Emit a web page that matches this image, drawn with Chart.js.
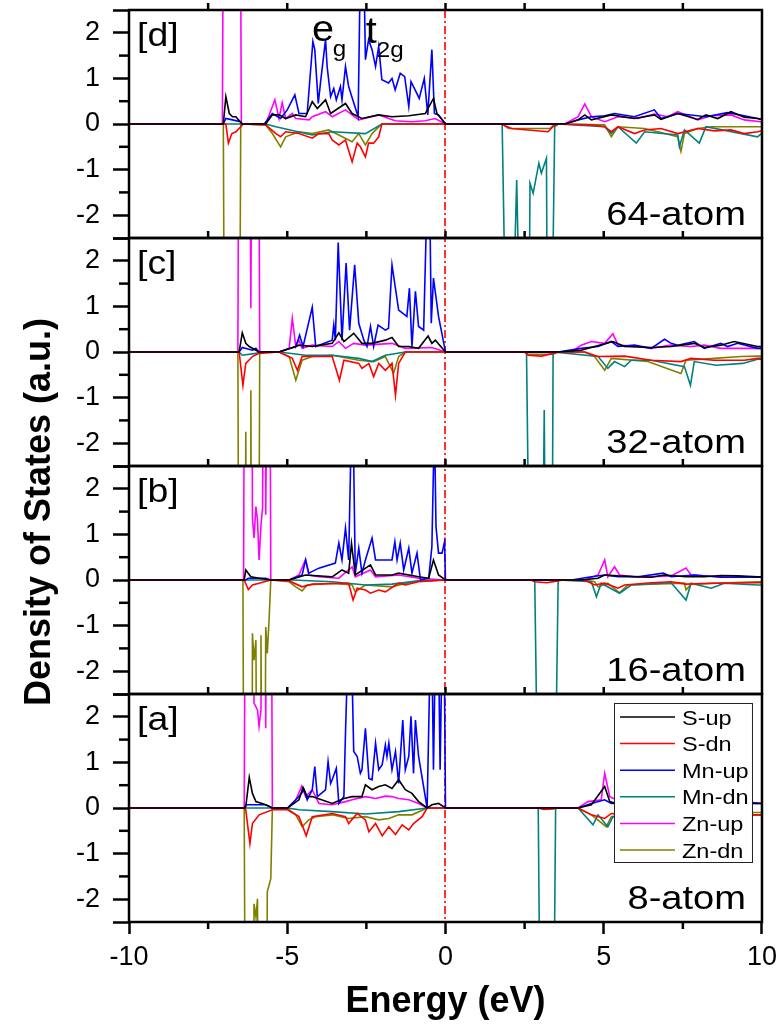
<!DOCTYPE html>
<html><head><meta charset="utf-8">
<script src="https://cdn.jsdelivr.net/npm/chart.js@4.4.1/dist/chart.umd.min.js"></script>
<style>html,body{margin:0;padding:0;background:#fff;}canvas{display:block;}</style>
</head><body>
<canvas id="c" width="784" height="1028"></canvas>
<script>
// ---------- labels ----------
const seriesNames  = ['S-up','S-dn','Mn-up','Mn-dn','Zn-up','Zn-dn'];
const seriesColors = ['#000000','#ff0000','#0000ff','#008080','#ff00ff','#808000'];
const panelKeys  = ['a','b','c','d'];
const panelTags  = ['[a]','[b]','[c]','[d]'];
const panelSizes = ['8-atom','16-atom','32-atom','64-atom'];
const xTicks = [-10,-5,0,5,10];
const yTicks = [-2,-1,0,1,2];
const xTitle = 'Energy (eV)';
const yTitle = 'Density of States (a.u.)';

// ---------- panel [a] 8-atom : [energy, DOS] ----------
const sUp_a = [[-10,0],[-6.34,0],[-6.31,0.03],[-6.20,0.67],[-6.10,0.32],[-5.99,0.14],[-5.68,0.07],[-5.47,0],[-4.99,0],[-4.63,0.18],[-4.50,0.45],[-4.37,0.25],[-4.21,0.25],[-3.58,0.10],[-3.21,0.21],[-2.95,0.25],[-2.64,0.25],[-2.53,0.51],[-2.32,0.40],[-2.11,0.47],[-1.90,0.51],[-1.69,0.43],[-1.48,0.62],[-1.27,0.40],[-1.06,0.32],[-0.85,0.14],[-0.58,0],[-0.43,0.07],[-0.22,0.10],[0,0],[4.19,0],[4.61,0.07],[5.03,0.47],[5.19,0.14],[5.40,0.10],[7,0.08],[9,0.10],[9.7,0.10],[10,0.10]];
const sDn_a = [[-10,0],[-6.34,0],[-6.31,-0.04],[-6.18,-0.78],[-6.10,-0.34],[-5.89,-0.15],[-5.47,-0.04],[-4.99,-0.04],[-4.63,-0.19],[-4.40,-0.61],[-4.21,-0.19],[-3.58,-0.12],[-3.16,-0.19],[-3.06,-0.34],[-2.79,-0.12],[-2.53,-0.26],[-2.42,-0.52],[-2.21,-0.34],[-2.0,-0.61],[-1.79,-0.41],[-1.58,-0.58],[-1.37,-0.37],[-1.16,-0.48],[-1.01,-0.34],[-0.74,-0.19],[-0.58,0],[2.93,0],[3.10,-0.03],[3.40,-0.02],[3.50,0],[4.19,0],[4.61,-0.15],[5.03,-0.23],[5.24,-0.12],[6,-0.15],[8,-0.15],[9.7,-0.15],[10,-0.15]];
const mnUp_a = [[-10,0],[-6.36,0],[-6.31,0.07],[-5.68,0.07],[-5.47,0],[-4.99,0],[-4.63,0.25],[-4.47,0.40],[-4.37,0.18],[-4.21,0.40],[-4.13,0.91],[-4.05,0.25],[-3.79,0.40],[-3.71,1.02],[-3.63,0.54],[-3.58,0.62],[-3.45,0.87],[-3.37,0.10],[-3.21,0.25],[-3.16,1.64],[-3.08,3.5],[-2.97,3.5],[-2.90,1.24],[-2.79,1.13],[-2.69,0.76],[-2.64,0.84],[-2.53,1.75],[-2.42,0.65],[-2.32,0.62],[-2.21,1.42],[-2.11,0.84],[-2.0,0.95],[-1.90,1.38],[-1.85,1.13],[-1.79,1.42],[-1.69,0.84],[-1.58,1.24],[-1.48,0.54],[-1.35,1.93],[-1.27,0.84],[-1.16,1.13],[-1.09,2.01],[-1.01,0.76],[-0.95,1.93],[-0.85,1.13],[-0.58,0],[-0.48,3.5],[-0.43,3.5],[-0.38,0.84],[-0.32,3.5],[-0.22,3.5],[-0.17,0.84],[-0.11,3.5],[-0.04,3.5],[0,0],[4.19,0],[4.61,0.10],[5.03,0.18],[5.24,0.10],[6,0.10],[8,0.10],[9.7,0.12],[10,0.10]];
const mnDn_a = [[-10,0],[-4.99,0],[-4.63,-0.04],[-3.58,-0.08],[-2.53,-0.13],[-1.48,-0.08],[-0.58,0],[2.93,0],[3.03,-8],[3.38,-8],[3.48,0],[4.19,0],[4.66,-0.37],[4.82,-0.15],[5.13,-0.41],[5.29,-0.19],[6,-0.20],[8,-0.20],[9.7,-0.15],[10,-0.15]];
const znUp_a = [[-10,0],[-6.36,0],[-6.31,8],[-6.10,8],[-6.05,2.30],[-5.94,2.15],[-5.89,1.79],[-5.83,2.15],[-5.78,8],[-5.72,8],[-5.68,1.75],[-5.63,8],[-5.52,8],[-5.47,0],[-4.99,0],[-4.73,0.18],[-4.54,0.48],[-4.42,0.25],[-4.21,0.40],[-4.0,0.10],[-3.58,0.07],[-3.16,0.14],[-2.95,0.18],[-2.53,0.25],[-2.21,0.21],[-1.90,0.26],[-1.69,0.25],[-1.48,0.21],[-1.16,0.18],[-0.85,0.10],[-0.58,0],[4.19,0],[4.50,0.14],[4.92,0.18],[5.03,0.76],[5.19,0.25],[5.40,0.18],[6,0.12],[7,0.10],[8,0.12],[9,0.10],[9.7,0.10],[10,0.10]];
const znDn_a = [[-10,0],[-6.36,0],[-6.31,-8],[-6.10,-8],[-6.05,-2.10],[-5.99,-2.39],[-5.94,-1.99],[-5.89,-8],[-5.68,-8],[-5.63,-1.84],[-5.52,-1.55],[-5.47,0],[-4.99,-0.01],[-4.73,-0.15],[-4.53,-0.41],[-4.32,-0.26],[-4.10,-0.19],[-3.58,-0.15],[-3.06,-0.23],[-2.53,-0.19],[-2.11,-0.26],[-1.79,-0.23],[-1.48,-0.15],[-1.06,-0.15],[-0.58,0],[4.19,0],[4.61,-0.15],[5.08,-0.41],[5.24,-0.19],[6,-0.15],[8,-0.12],[9.7,-0.10],[10,-0.10]];

// ---------- panel [b] 16-atom ----------
const sUp_b = [[-10,0],[-6.36,0],[-6.31,0.22],[-6.15,0.07],[-5.89,0.04],[-5.52,0],[-4.94,0],[-4.42,0.11],[-3.58,0.07],[-3.27,0.22],[-3.06,0.15],[-2.97,0.80],[-2.85,0.11],[-2.37,0.33],[-2.21,0.11],[-1.69,0.11],[-1.48,0.15],[-0.85,0.07],[-0.53,0.04],[-0.38,0.44],[-0.22,0.11],[0,0],[4.29,0],[4.82,0.04],[5.03,0.11],[5.45,0.09],[6.50,0.06],[6.92,0.11],[7.60,0.07],[8.18,0.07],[8.70,0.10],[9.23,0.09],[9.86,0.07],[10,0.07]];
const sDn_b = [[-10,0],[-6.36,0],[-6.23,-0.21],[-6.10,-0.11],[-5.89,-0.07],[-5.52,0],[-4.94,-0.02],[-4.53,-0.15],[-4.21,-0.09],[-3.06,-0.07],[-2.92,-0.44],[-2.79,-0.18],[-2.53,-0.22],[-2.37,-0.29],[-2.11,-0.22],[-1.90,-0.26],[-1.48,-0.07],[-1.27,-0.11],[-0.85,-0.04],[0,0],[2.70,0],[2.82,-0.04],[3.20,-0.06],[3.56,-0.02],[3.70,0],[4.40,0],[4.71,-0.11],[5.03,-0.07],[5.45,-0.18],[5.66,-0.11],[6.50,-0.06],[7.13,-0.04],[7.60,-0.09],[8.49,-0.07],[9.86,-0.06],[10,-0.06]];
const mnUp_b = [[-10,0],[-6.31,0],[-6.23,0.04],[-5.68,0.04],[-5.52,0],[-4.94,0],[-4.53,0.11],[-4.42,0.44],[-4.32,0.15],[-4.0,0.26],[-3.48,0.37],[-3.37,0.81],[-3.27,0.44],[-3.16,1.14],[-3.06,0.44],[-2.97,3.5],[-2.92,3.5],[-2.85,0.15],[-2.74,0.70],[-2.64,0.15],[-2.53,0.44],[-2.32,0.92],[-2.21,0.44],[-1.69,0.44],[-1.60,0.84],[-1.53,0.44],[-1.43,0.81],[-1.32,0.22],[-1.16,0.70],[-1.06,0.15],[-0.90,0.59],[-0.79,0],[-0.53,0.04],[-0.43,0.73],[-0.35,3.5],[-0.30,1.17],[-0.22,0.59],[-0.11,0.59],[-0.03,0.84],[0,0],[3.98,0],[4.61,0.07],[5.03,0.11],[5.45,0.07],[6.08,0.07],[6.88,0.15],[7.13,0.07],[7.86,0.11],[8.70,0.06],[9.86,0.06],[10,0.06]];
const mnDn_b = [[-10,0],[-4.84,0],[-3.58,-0.04],[-2.53,-0.11],[-1.69,-0.09],[-0.85,-0.02],[0,0],[2.82,0],[2.98,-8],[3.40,-8],[3.56,0],[4.61,-0.04],[4.77,-0.37],[4.92,-0.07],[5.50,-0.29],[5.87,-0.11],[7.13,-0.06],[7.60,-0.44],[7.76,-0.07],[8.39,-0.18],[8.81,-0.07],[9.86,-0.11],[10,-0.11]];
const znUp_b = [[-10,0],[-6.38,0],[-6.34,8],[-6.12,8],[-6.10,1.36],[-6.05,0.92],[-5.99,1.61],[-5.94,1.32],[-5.89,0.44],[-5.83,1.20],[-5.78,1.58],[-5.73,8],[-5.70,8],[-5.68,1.43],[-5.60,8],[-5.56,8],[-5.52,0],[-4.94,0],[-4.63,0.11],[-4.42,0.45],[-4.32,0.11],[-4.0,0.07],[-3.37,0.04],[-2.95,0.29],[-2.85,0.07],[-2.37,0.22],[-2.21,0.07],[-1.48,0.11],[-0.85,0.04],[0,0],[4.40,0],[4.82,0.11],[5.03,0.44],[5.13,0.07],[5.34,0.29],[5.50,0.11],[6.08,0.06],[7.13,0.09],[7.60,0.26],[7.76,0.11],[8.70,0.07],[9.86,0.06],[10,0.06]];
const znDn_b = [[-10,0],[-6.40,0],[-6.36,-8],[-6.12,-8],[-6.10,-1.17],[-6.05,-1.76],[-5.99,-1.32],[-5.94,-8],[-5.86,-8],[-5.83,-1.21],[-5.78,-8],[-5.72,-8],[-5.68,-1.03],[-5.63,-1.61],[-5.57,-0.81],[-5.52,0],[-4.94,-0.04],[-4.73,-0.15],[-4.53,-0.24],[-4.37,-0.11],[-3.58,-0.07],[-2.95,-0.11],[-2.85,-0.26],[-2.53,-0.11],[-1.69,-0.15],[-1.37,-0.09],[-0.85,-0.02],[0,0],[4.40,0],[4.71,-0.04],[4.82,-0.15],[5.13,-0.07],[5.50,-0.28],[5.76,-0.11],[7.55,-0.07],[7.60,-0.22],[7.76,-0.09],[9.86,-0.04],[10,-0.04]];

// ---------- panel [c] 32-atom ----------
const sUp_c = [[-10,0],[-6.52,0],[-6.42,0.42],[-6.31,0.19],[-6.20,0.12],[-5.99,0.04],[-5.89,0],[-5.26,0],[-4.73,0.12],[-4.63,0.15],[-4.21,0.12],[-3.58,0.19],[-3.37,0.42],[-3.21,0.23],[-2.90,0.41],[-2.64,0.19],[-2.32,0.19],[-1.90,0.26],[-1.69,0.32],[-1.48,0.12],[-1.16,0.12],[-0.85,0.08],[-0.55,0.35],[-0.43,0.19],[-0.32,0.26],[0,0],[3.56,0],[4.29,0.04],[4.71,0.12],[5.29,0.23],[5.66,0.12],[6.50,0.10],[7.13,0.12],[7.86,0.19],[8.18,0.10],[8.70,0.15],[9.12,0.23],[9.86,0.12],[10,0.12]];
const sDn_c = [[-10,0],[-6.52,0],[-6.40,-0.73],[-6.31,-0.25],[-6.10,-0.10],[-5.89,-0.03],[-5.26,0],[-4.84,-0.14],[-4.68,-0.40],[-4.53,-0.10],[-4.21,-0.10],[-3.58,-0.10],[-3.35,-0.62],[-3.21,-0.18],[-2.74,-0.25],[-2.64,-0.36],[-2.42,-0.25],[-2.27,-0.54],[-2.11,-0.25],[-1.90,-0.40],[-1.69,-0.25],[-1.58,-0.95],[-1.48,-0.25],[-1.27,0],[2.50,0],[2.61,-0.07],[3.03,-0.09],[3.40,-0.03],[3.56,0],[4.40,0],[4.82,-0.10],[5.66,-0.09],[6.50,-0.18],[7.44,-0.21],[7.76,-0.14],[8.49,-0.18],[9.44,-0.18],[9.86,-0.14],[10,-0.14]];
const mnUp_c = [[-10,0],[-6.52,0],[-6.42,0.10],[-6.10,0.04],[-5.99,0.08],[-5.89,0],[-5.26,0],[-4.73,0.12],[-4.61,0.37],[-4.50,0.12],[-4.21,0.98],[-4.10,0.12],[-3.58,0.26],[-3.53,0.59],[-3.48,0.26],[-3.39,2.40],[-3.27,0.26],[-3.14,1.95],[-3.03,0.48],[-2.87,1.91],[-2.74,0.63],[-2.58,0.26],[-2.48,0.12],[-2.37,0.56],[-2.27,0.12],[-2.13,0.59],[-1.90,0.48],[-1.80,0.52],[-1.69,1.91],[-1.48,0.92],[-1.22,0.78],[-1.14,1.40],[-1.06,0.12],[-0.95,1.33],[-0.85,0.56],[-0.69,0.48],[-0.58,3.5],[-0.50,3.5],[-0.45,0.63],[-0.38,1.62],[-0.22,0.78],[0,0],[3.56,0],[4.29,0.08],[4.82,0.12],[5.24,0.23],[5.45,0.12],[5.97,0.15],[6.50,0.08],[6.92,0.28],[7.13,0.19],[7.34,0.15],[7.86,0.23],[8.18,0.08],[8.70,0.19],[8.91,0.12],[9.23,0.19],[9.86,0.08],[10,0.08]];
const mnDn_c = [[-10,0],[-6.52,0],[-6.42,-0.07],[-5.99,-0.03],[-5.89,0],[-5.26,0],[-4.42,-0.07],[-3.58,-0.07],[-2.74,-0.14],[-2.32,-0.21],[-1.90,-0.07],[-1.27,0],[2.56,0],[2.70,-8],[3.03,-8],[3.12,-1.27],[3.19,-8],[3.35,-8],[3.40,0],[4.82,-0.10],[5.13,-0.36],[5.34,-0.21],[5.66,-0.32],[5.87,-0.18],[6.50,-0.18],[7.55,-0.32],[7.74,-0.73],[7.86,-0.21],[8.55,-0.29],[9.39,-0.25],[9.86,-0.16],[10,-0.16]];
const znUp_c = [[-10,0],[-6.56,0],[-6.52,8],[-6.20,8],[-6.15,0.96],[-6.10,8],[-5.91,8],[-5.87,0],[-5.26,0],[-4.94,0.08],[-4.84,0.74],[-4.73,0.12],[-4.63,0.26],[-4.53,0.08],[-4.21,0.15],[-3.58,0.12],[-3.37,0.23],[-3.16,0.08],[-2.90,0.19],[-2.53,0.15],[-1.69,0.19],[-1.27,0.08],[-0.43,0.10],[0,0],[3.98,0],[4.29,0.15],[4.61,0.23],[5.03,0.19],[5.29,0.40],[5.45,0.15],[6.08,0.12],[6.50,0.08],[7.13,0.15],[7.76,0.12],[8.18,0.15],[8.70,0.08],[9.23,0.08],[9.86,0.08],[10,0.08]];
const znDn_c = [[-10,0],[-6.56,0],[-6.52,-8],[-6.34,-8],[-6.31,-1.75],[-6.27,-8],[-6.17,-8],[-6.15,-0.84],[-6.12,-8],[-5.91,-8],[-5.87,0],[-5.26,0],[-4.94,-0.10],[-4.73,-0.62],[-4.53,-0.18],[-4.21,-0.10],[-3.58,-0.07],[-2.74,-0.18],[-2.27,-0.21],[-1.90,-0.10],[-1.64,-0.47],[-1.48,-0.10],[-1.27,0],[2.50,0],[2.61,-0.05],[3.40,-0.05],[3.56,0],[4.40,0],[4.71,-0.10],[5.03,-0.40],[5.24,-0.14],[6.39,-0.21],[7.44,-0.47],[7.60,-0.18],[8.49,-0.14],[9.33,-0.10],[9.86,-0.09],[10,-0.09]];

// ---------- panel [d] 64-atom ----------
const sUp_d = [[-10,0],[-7.02,0],[-6.94,0.60],[-6.83,0.23],[-6.73,0.16],[-6.62,0.16],[-6.54,0.09],[-6.42,0],[-5.68,0],[-5.47,0.20],[-5.26,0.20],[-5.05,0.12],[-4.73,0.20],[-4.42,0.16],[-4.21,0.49],[-4.05,0.34],[-3.79,0.53],[-3.63,0.23],[-3.16,0.45],[-2.95,0.23],[-2.64,0.12],[-2.11,0.20],[-1.69,0.16],[-1.16,0.18],[-0.64,0.23],[-0.38,0.56],[-0.27,0.23],[0,0],[3.77,0],[4.19,0.09],[4.40,0.20],[4.61,0.09],[5.24,0.20],[5.97,0.12],[6.60,0.20],[6.81,0.10],[7.34,0.23],[7.97,0.10],[8.23,0.20],[8.60,0.12],[9.02,0.27],[9.44,0.15],[9.86,0.12],[10,0.10]];
const sDn_d = [[-10,0],[-6.94,0],[-6.86,-0.42],[-6.75,-0.21],[-6.62,-0.17],[-6.47,-0.06],[-6.39,0],[-5.68,-0.02],[-5.36,-0.21],[-5.21,-0.28],[-5.05,-0.17],[-4.63,-0.21],[-4.21,-0.31],[-4.0,-0.21],[-3.69,-0.21],[-3.58,-0.35],[-3.37,-0.46],[-3.16,-0.35],[-2.95,-0.83],[-2.79,-0.42],[-2.69,-0.50],[-2.53,-0.72],[-2.43,-0.42],[-2.27,-0.42],[-2.11,-0.28],[-2.01,0],[1.75,0],[1.88,-0.04],[2.09,-0.10],[2.61,-0.13],[3.24,-0.17],[3.45,-0.02],[3.60,0],[4.60,-0.02],[5.03,-0.06],[5.24,-0.17],[5.45,-0.06],[5.97,-0.21],[6.29,-0.13],[6.81,-0.10],[7.34,-0.21],[7.97,-0.10],[8.50,-0.15],[9.02,-0.13],[9.44,-0.21],[9.86,-0.17],[10,-0.15]];
const mnUp_d = [[-10,0],[-7.02,0],[-6.94,0.12],[-6.73,0.09],[-6.48,0.05],[-6.42,0],[-5.73,0],[-5.47,0.23],[-5.21,0.12],[-5.0,0.31],[-4.76,0.64],[-4.63,0.23],[-4.37,0.23],[-4.19,1.81],[-4.13,1.63],[-4.02,0.45],[-3.95,0.90],[-3.79,1.85],[-3.74,1.26],[-3.63,0.60],[-3.53,0.78],[-3.45,0.53],[-3.32,0.82],[-3.27,0.53],[-3.16,1.26],[-3.06,0.82],[-2.93,0.53],[-2.76,0.16],[-2.69,3.5],[-2.58,3.5],[-2.53,1.41],[-2.43,1.85],[-2.32,1.63],[-2.21,1.26],[-2.11,1.70],[-2.01,0.97],[-1.80,0.90],[-1.69,1.00],[-1.59,0.75],[-1.43,1.11],[-1.29,1.04],[-1.16,0.38],[-1.09,0.93],[-0.96,0.75],[-0.83,0.56],[-0.67,1.00],[-0.56,0.20],[-0.43,1.63],[-0.35,0.23],[-0.22,0.20],[0,0],[3.77,0],[4.19,0.09],[4.61,0.16],[5.03,0.18],[5.34,0.23],[5.97,0.16],[6.60,0.31],[6.81,0.12],[7.34,0.23],[8.23,0.16],[8.91,0.25],[9.44,0.18],[9.86,0.12],[10,0.10]];
const mnDn_d = [[-10,0],[-5.68,0],[-5.36,-0.06],[-4.21,-0.24],[-3.58,-0.17],[-2.53,-0.21],[-2.01,0],[1.79,0],[1.99,-8],[2.25,-1.23],[2.45,-8],[2.61,-8],[2.67,-1.30],[2.77,-1.52],[2.95,-0.86],[3.03,-1.08],[3.19,-0.75],[3.24,-8],[3.30,-8],[3.45,-0.06],[3.56,0],[5.03,-0.06],[5.24,-0.21],[5.45,-0.06],[6.03,-0.42],[6.29,-0.17],[7.34,-0.24],[7.39,-0.50],[7.55,-0.13],[8.02,-0.42],[8.23,-0.06],[9.86,-0.28],[10,-0.20]];
const znUp_d = [[-10,0],[-7.05,0],[-7.0,8],[-6.50,8],[-6.45,0],[-5.68,0],[-5.39,0.53],[-5.26,0.12],[-5.16,0.47],[-5.05,0.12],[-4.84,0.23],[-4.73,0.12],[-4.31,0.09],[-4.21,0.16],[-3.79,0.27],[-3.58,0.16],[-3.16,0.31],[-2.74,0.09],[-2.11,0.20],[-1.59,0.07],[-1.06,0.05],[-0.64,0.07],[-0.33,0.12],[0,0],[3.77,0],[4.19,0.16],[4.40,0.44],[4.61,0.16],[5.03,0.05],[5.45,0.16],[6.08,0.12],[6.60,0.22],[7.02,0.16],[7.34,0.27],[7.97,0.09],[8.39,0.18],[9.02,0.20],[9.44,0.09],[9.96,0.05],[10,0.05]];
const znDn_d = [[-10,0],[-7.02,0],[-6.97,-8],[-6.52,-8],[-6.47,0],[-5.68,-0.02],[-5.47,-0.21],[-5.21,-0.50],[-5.05,-0.28],[-4.63,-0.17],[-4.21,-0.21],[-3.69,-0.13],[-3.37,-0.24],[-2.95,-0.39],[-2.74,-0.21],[-2.53,-0.46],[-2.32,-0.21],[-2.01,0],[1.80,0],[1.99,-0.10],[2.61,-0.10],[3.30,-0.10],[3.45,0],[5.03,-0.02],[5.24,-0.28],[5.45,-0.06],[6.29,-0.10],[7.34,-0.28],[7.44,-0.60],[7.55,-0.21],[7.97,-0.10],[8.39,-0.06],[9.96,-0.06],[10,-0.06]];

// ---------- assemble ----------
const panelSeries = {
  a: [sUp_a, sDn_a, mnUp_a, mnDn_a, znUp_a, znDn_a],
  b: [sUp_b, sDn_b, mnUp_b, mnDn_b, znUp_b, znDn_b],
  c: [sUp_c, sDn_c, mnUp_c, mnDn_c, znUp_c, znDn_c],
  d: [sUp_d, sDn_d, mnUp_d, mnDn_d, znUp_d, znDn_d]
};
const FONT = '"Liberation Sans", Arial, Helvetica, sans-serif';

const datasets = [];
panelKeys.forEach(k => {
  panelSeries[k].forEach((arr, i) => {
    datasets.push({
      label: seriesNames[i],
      data: arr.map(p => ({x: p[0], y: p[1]})),
      yAxisID: 'y' + k,
      borderColor: seriesColors[i],
      backgroundColor: seriesColors[i],
      borderWidth: 1.6,
      pointRadius: 0,
      tension: 0,
      fill: false
    });
  });
});

const yTickVals = [-2.5, ...yTicks, 2.5];
const scales = {
  x: {
    type: 'linear', position: 'bottom', min: -10, max: 10,
    afterBuildTicks: s => { s.ticks = xTicks.map(v => ({value: v})); },
    afterFit: s => { s.height = 106; },
    ticks: {autoSkip: false, maxRotation: 0, color: '#000', padding: 7, font: {family: FONT, size: 27}},
    grid: {drawOnChartArea: false, drawTicks: true, tickLength: 12, tickWidth: 2.5, tickColor: '#000'},
    border: {display: false},
    title: {display: true, text: xTitle, color: '#000', font: {family: FONT, size: 36, weight: 'bold'}, padding: {top: 0, bottom: 4}}
  }
};
panelKeys.forEach(k => {
  scales['y' + k] = {
    type: 'linear', position: 'left', stack: 'dos', stackWeight: 1, min: -2.5, max: 2.5,
    afterBuildTicks: s => { s.ticks = yTickVals.map(v => ({value: v})); },
    afterFit: s => { s.width = 65; s.paddingTop = 0; s.paddingBottom = 0; },
    ticks: {autoSkip: false, color: '#000', padding: 13, font: {family: FONT, size: 27},
            callback: v => yTicks.includes(v) ? String(v) : ''},
    grid: {drawOnChartArea: false, drawTicks: true, tickLength: 16, tickWidth: 2.5, tickColor: '#000'},
    border: {display: false}
  };
});

function sText(ctx, txt, x, y, font, align, sx) {
  ctx.save();
  ctx.font = font;
  ctx.translate(x, y);
  ctx.scale(sx, 1);
  ctx.textAlign = align;
  ctx.textBaseline = 'alphabetic';
  ctx.fillStyle = '#000';
  ctx.fillText(txt, 0, 0);
  ctx.restore();
}

const panelClip = {
  id: 'panelClip',
  beforeDatasetDraw(chart, args) {
    const ys = chart.scales[args.meta.yAxisID];
    const a = chart.chartArea;
    const ctx = chart.ctx;
    ctx.save();
    ctx.beginPath();
    ctx.rect(a.left, ys.top, a.right - a.left, ys.bottom - ys.top);
    ctx.clip();
  },
  afterDatasetDraw(chart) { chart.ctx.restore(); }
};

const decor = {
  id: 'decor',
  beforeDatasetsDraw(chart) {
    const ctx = chart.ctx, a = chart.chartArea, x0 = Math.round(chart.scales.x.getPixelForValue(0));
    ctx.save();
    ctx.strokeStyle = '#ff0000';
    ctx.lineWidth = 1.6;
    ctx.setLineDash([8, 3, 2, 3]);
    ctx.beginPath();
    ctx.moveTo(x0, a.top); ctx.lineTo(x0, a.bottom);
    ctx.stroke();
    ctx.restore();
  },
  afterDraw(chart) {
    const ctx = chart.ctx, a = chart.chartArea, xs = chart.scales.x;
    ctx.save();
    ctx.strokeStyle = '#000';
    ctx.lineWidth = 2.5;
    ctx.setLineDash([]);
    panelKeys.forEach((k, idx) => {
      const ys = chart.scales['y' + k];
      ctx.strokeRect(a.left, ys.top, a.right - a.left, ys.bottom - ys.top);
      [-1.5, -0.5, 0.5, 1.5].forEach(v => {
        const py = ys.getPixelForValue(v);
        ctx.beginPath(); ctx.moveTo(a.left - 10, py); ctx.lineTo(a.left, py); ctx.stroke();
      });
      for (let v = -7.5; v <= 7.5; v += 2.5) {
        const px = xs.getPixelForValue(v);
        ctx.beginPath(); ctx.moveTo(px, ys.top); ctx.lineTo(px, ys.top - 7); ctx.stroke();
      }
      sText(ctx, panelTags[idx], a.left + 8, ys.top + 36, '34px ' + FONT, 'left', 1.1);
      sText(ctx, panelSizes[idx], a.right - 16, ys.bottom - 13, '34px ' + FONT, 'right', 1.12);
    });
    [-7.5, -2.5, 2.5, 7.5].forEach(v => {
      const px = xs.getPixelForValue(v);
      ctx.beginPath(); ctx.moveTo(px, a.bottom); ctx.lineTo(px, a.bottom + 7); ctx.stroke();
    });
    const yd = chart.scales.yd;
    sText(ctx, 'e', xs.getPixelForValue(-4.22), yd.getPixelForValue(1.82), '36px ' + FONT, 'left', 1.1);
    sText(ctx, 'g', xs.getPixelForValue(-3.56), yd.getPixelForValue(1.49), '22px ' + FONT, 'left', 1.1);
    sText(ctx, 't', xs.getPixelForValue(-2.52), yd.getPixelForValue(1.78), '36px ' + FONT, 'left', 1.1);
    sText(ctx, '2g', xs.getPixelForValue(-2.17), yd.getPixelForValue(1.47), '22px ' + FONT, 'left', 1.1);
    const ya = chart.scales.ya;
    const lx = a.right - 148, ly = ya.top + 9, lw = 138, lh = 159;
    ctx.fillStyle = '#fff';
    ctx.fillRect(lx, ly, lw, lh);
    ctx.strokeStyle = '#222';
    ctx.lineWidth = 1;
    ctx.strokeRect(lx + 0.5, ly + 0.5, lw, lh);
    datasets.slice(0, 6).forEach((ds, i) => {
      const cy = ly + 14 + i * 26.6;
      ctx.strokeStyle = ds.borderColor;
      ctx.lineWidth = 1.5;
      ctx.beginPath(); ctx.moveTo(lx + 6, cy); ctx.lineTo(lx + 61, cy); ctx.stroke();
      sText(ctx, ds.label, lx + 68, cy + 7.5, '21px ' + FONT, 'left', 1.12);
    });
    ctx.save();
    ctx.translate(40, (a.top + a.bottom) / 2 + 46);
    ctx.rotate(-Math.PI / 2);
    ctx.font = 'bold 36px ' + FONT;
    ctx.fillStyle = '#000';
    ctx.textAlign = 'center';
    ctx.textBaseline = 'middle';
    ctx.fillText(yTitle, 0, 0);
    ctx.restore();
    ctx.restore();
  }
};

new Chart(document.getElementById('c'), {
  type: 'line',
  data: {datasets},
  options: {
    responsive: false,
    animation: false,
    devicePixelRatio: 1,
    layout: {padding: {left: 64, right: 20, top: 10, bottom: 0}},
    plugins: {legend: {display: false}, tooltip: {enabled: false}},
    scales
  },
  plugins: [panelClip, decor]
});
</script>
</body></html>
